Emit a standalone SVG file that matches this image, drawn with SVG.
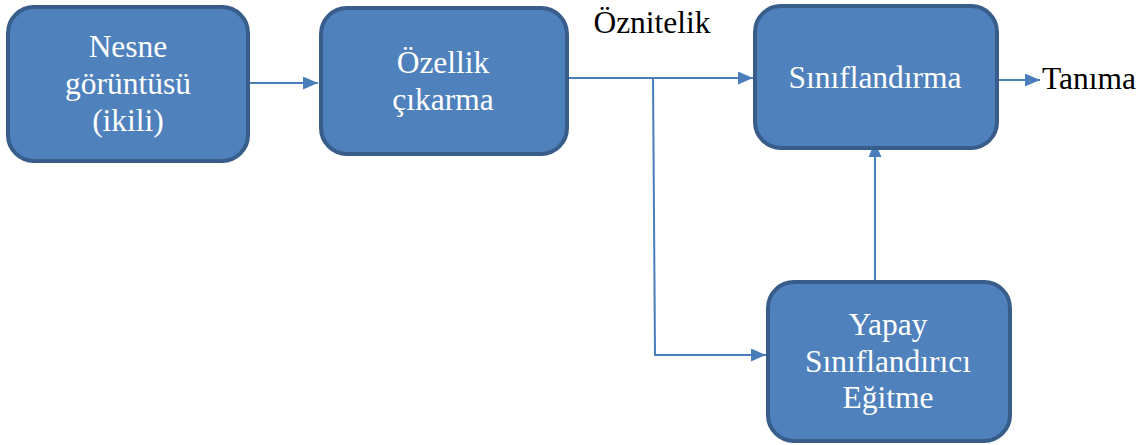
<svg xmlns="http://www.w3.org/2000/svg" width="1148" height="445" viewBox="0 0 1148 445">
<style>
.box{fill:#4F81BD;stroke:#385D8A;stroke-width:4}
.wt{font-family:"Liberation Serif","Times New Roman",serif;font-size:31.5px;fill:#ffffff;text-anchor:middle}
.bt{font-family:"Liberation Serif","Times New Roman",serif;font-size:31.5px;fill:#000000}
.ln{fill:none;stroke:#4A7EBB;stroke-width:2}
</style>
<defs>
<marker id="ah" markerWidth="15" markerHeight="13" refX="15" refY="6.5" orient="auto" markerUnits="userSpaceOnUse">
<path d="M0,0 L15,6.5 L0,13 Z" fill="#4A7EBB"/>
</marker>
</defs>
<rect width="1148" height="445" fill="#ffffff"/>
<g id="connectors">
<line class="ln" x1="250" y1="83" x2="318" y2="83" marker-end="url(#ah)"/>
<line class="ln" x1="569" y1="78" x2="753" y2="78" marker-end="url(#ah)"/>
<polyline class="ln" points="653,78 655,355 766,355" marker-end="url(#ah)"/>
<line class="ln" x1="875" y1="280" x2="875" y2="142" marker-end="url(#ah)"/>
<line class="ln" x1="999" y1="80" x2="1040" y2="80" marker-end="url(#ah)"/>
</g>
<g id="node-nesne">
<rect class="box" x="8" y="7" width="240" height="154" rx="26"/>
<text class="wt" x="128" y="57">Nesne</text>
<text class="wt" x="128" y="94">görüntüsü</text>
<text class="wt" x="128" y="131">(ikili)</text>
</g>
<g id="node-ozellik">
<rect class="box" x="321" y="8" width="246" height="146" rx="26"/>
<text class="wt" x="443" y="73">Özellik</text>
<text class="wt" x="443" y="110">çıkarma</text>
</g>
<g id="node-siniflandirma">
<rect class="box" x="755" y="6" width="242" height="142" rx="26"/>
<text class="wt" x="875" y="88">Sınıflandırma</text>
</g>
<g id="node-yapay">
<rect class="box" x="768" y="282" width="242" height="159" rx="26"/>
<text class="wt" x="888" y="335">Yapay</text>
<text class="wt" x="888" y="372">Sınıflandırıcı</text>
<text class="wt" x="888" y="408">Eğitme</text>
</g>
<g id="labels">
<text class="bt" x="652" y="33" text-anchor="middle">Öznitelik</text>
<text class="bt" x="1042" y="89">Tanıma</text>
</g>
</svg>
